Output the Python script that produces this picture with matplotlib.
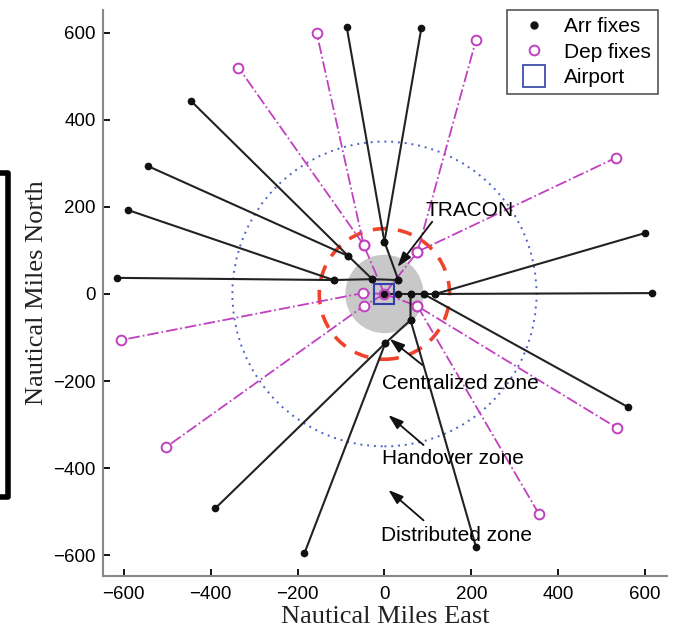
import numpy as np
import matplotlib.pyplot as plt
from matplotlib.patches import Circle
from matplotlib.lines import Line2D

# arrival routes: outer fix -> intermediate fixes -> near airport
arr_routes = [
    [(-87, 614), (0, 120), (32, 32)],
    [(85, 611), (0, 120)],
    [(-446, 444), (-83, 87), (-28, 34)],
    [(-545, 294), (-83, 87)],
    [(-591, 193), (-117, 32)],
    [(-616, 37), (-117, 32), (-28, 34), (32, 32)],
    [(600, 140), (117, 0)],
    [(616, 2), (117, 0), (90, 0), (60, 0), (32, 0), (0, 0)],
    [(561, -260), (90, 0)],
    [(-389, -492), (2, -113), (60, -60), (60, 0)],
    [(-184, -595), (2, -113)],
    [(211, -582), (60, -60)],
]

# departure routes: airport -> inner fix -> outer fix
dep_routes = [
    [(0, 0), (-48, 113), (-156, 600)],
    [(-48, 113), (-336, 520)],
    [(0, 0), (76, 97), (211, 584)],
    [(76, 97), (533, 313)],
    [(0, 0), (-50, 2), (-607, -106)],
    [(0, 0), (-48, -28), (-503, -352)],
    [(0, 0), (76, -28), (536, -308)],
    [(76, -28), (356, -506)],
]

zone_radii = {'centralized': 90, 'tracon': 150, 'handover': 350}

labels = {
    'TRACON': ((94, 191), (110, 166), (30, 62)),
    'Centralized zone': ((-5, -205), (87, -163), (12, -103)),
    'Handover zone': ((-5, -377), (90, -347), (9, -278)),
    'Distributed zone': ((-9, -555), (90, -520), (9, -450)),
}

plt.rcParams['font.family'] = ['Liberation Sans', 'DejaVu Sans']

fig = plt.figure(figsize=(6.77, 6.31), dpi=100)
ax = fig.add_axes([0.152, 0.087, 0.833, 0.897])

ax.add_patch(Circle((0, 0), zone_radii['centralized'], facecolor='#c8c8c8',
                    edgecolor='none', zorder=1))
ax.add_patch(Circle((0, 0), zone_radii['tracon'], fill=False, edgecolor='#f0442a',
                    linestyle=(0, (4, 3)), linewidth=2.6, zorder=2))
ax.add_patch(Circle((0, 0), zone_radii['handover'], fill=False, edgecolor='#4a62c8',
                    linestyle=(0, (1, 2.5)), linewidth=1.4, zorder=2))

mag = '#c040c0'
for r in dep_routes:
    xs, ys = zip(*r)
    ax.plot(xs, ys, color=mag, linestyle='-.', linewidth=1.3, zorder=3)
    pts = [p for p in r if p != (0, 0)]
    px, py = zip(*pts)
    ax.plot(px, py, 'o', color=mag, mfc='white', markersize=7, mew=1.4, zorder=5)

for r in arr_routes:
    xs, ys = zip(*r)
    ax.plot(xs, ys, color='#222222', linewidth=1.5, zorder=4)
    ax.plot(xs, ys, 'o', color='#111111', markersize=4.5, linestyle='none', zorder=6)

ax.plot([0], [0], 'o', color=mag, mfc='none', markersize=7, mew=1.4, zorder=6)
ax.plot([0], [0], 's', color='#3040a8', mfc='none', markersize=15, mew=1.5, zorder=7)

for txt, (tpos, tail, head) in labels.items():
    ax.text(tpos[0], tpos[1], txt, fontsize=15, ha='left', va='center', zorder=8)
    ax.annotate('', xy=head, xytext=tail,
                arrowprops=dict(arrowstyle='-|>,head_length=0.9,head_width=0.3',
                                color='#111111', lw=1.3, shrinkA=0, shrinkB=0),
                zorder=8)

ax.set_xlim(-648, 650)
ax.set_ylim(-648, 652)
ax.set_xticks([-600, -400, -200, 0, 200, 400, 600])
ax.set_yticks([-600, -400, -200, 0, 200, 400, 600])
ax.tick_params(direction='in', length=5, width=1.3, labelsize=13.5)
ax.tick_params(axis='x', pad=7)
ax.tick_params(axis='y', pad=5)
for s in ['top', 'right']:
    ax.spines[s].set_visible(False)
for s in ['left', 'bottom']:
    ax.spines[s].set_color('#888888')
    ax.spines[s].set_linewidth(1.5)

ax.set_xlabel('Nautical Miles East', family=['Liberation Serif', 'DejaVu Serif'],
              fontsize=19, labelpad=2, color='#222222')
ax.set_ylabel('Nautical Miles North', family=['Liberation Serif', 'DejaVu Serif'],
              fontsize=19, labelpad=4, color='#222222')

handles = [
    Line2D([], [], marker='o', color='#111111', linestyle='none', markersize=5),
    Line2D([], [], marker='o', color=mag, mfc='none', linestyle='none',
           markersize=7, mew=1.4),
    Line2D([], [], marker='s', color='#3040a8', mfc='none', linestyle='none',
           markersize=16, mew=1.2),
]
leg = ax.legend(handles, ['Arr fixes', 'Dep fixes', 'Airport'], loc='upper right',
                bbox_to_anchor=(0.985, 1.0),
                fontsize=15, fancybox=False, edgecolor='#555555', framealpha=1,
                borderaxespad=0.0, handlelength=1.9, handletextpad=0.5,
                labelspacing=0.3, borderpad=0.35)
leg.get_frame().set_linewidth(1.2)

# bracket at left edge
fig.add_artist(Line2D([0, 0.012, 0.012, 0], [1 - 173 / 631, 1 - 173 / 631,
                                              1 - 497 / 631, 1 - 497 / 631],
                      color='black', linewidth=4, transform=fig.transFigure))

fig.savefig('out.png', dpi=100)
